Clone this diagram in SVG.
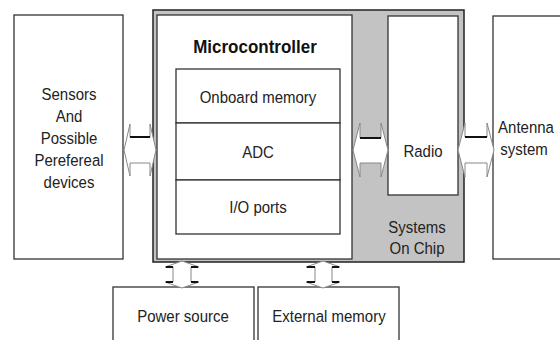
<svg xmlns="http://www.w3.org/2000/svg" width="560" height="340" viewBox="0 0 560 340">
<style>
.box{fill:#fff;stroke:#333;stroke-width:1.3}
.t{font-family:"Liberation Sans",Arial,sans-serif;font-size:15px;fill:#222;text-anchor:middle}
.b{font-weight:bold;font-size:17px;fill:#111}
.arr{fill:#fff;stroke:#888;stroke-width:1}
.dk{stroke:#111;stroke-width:2;fill:none}
</style>
<rect width="560" height="340" fill="#fff"/>
<g id="soc">
<rect x="153" y="10" width="311" height="252" fill="#c3c3c3" stroke="#222" stroke-width="1.5"/>
<text class="t" transform="translate(417,233) scale(1,1.15)">Systems</text>
<text class="t" transform="translate(417,254) scale(1,1.15)">On Chip</text>
</g>
<g id="sensors">
<rect class="box" x="14" y="15" width="109" height="244"/>
<text class="t" transform="translate(69,100) scale(1,1.15)">Sensors</text>
<text class="t" transform="translate(69,122) scale(1,1.15)">And</text>
<text class="t" transform="translate(69,144) scale(1,1.15)">Possible</text>
<text class="t" transform="translate(69,166) scale(1,1.15)">Perefereal</text>
<text class="t" transform="translate(69,188) scale(1,1.15)">devices</text>
</g>
<g id="microcontroller">
<rect class="box" x="157" y="15" width="195" height="244"/>
<text class="t b" transform="translate(255,53) scale(1,1.12)">Microcontroller</text>
</g>
<g id="onboard-memory">
<rect class="box" x="176" y="69" width="164" height="54"/>
<text class="t" transform="translate(258,103) scale(1,1.15)">Onboard memory</text>
</g>
<g id="adc">
<rect class="box" x="176" y="123" width="164" height="57"/>
<text class="t" transform="translate(258,158) scale(1,1.15)">ADC</text>
</g>
<g id="io-ports">
<rect class="box" x="176" y="180" width="164" height="54"/>
<text class="t" transform="translate(258,213) scale(1,1.15)">I/O ports</text>
</g>
<g id="radio">
<rect class="box" x="388" y="16" width="70" height="179"/>
<text class="t" transform="translate(423,157) scale(1,1.15)">Radio</text>
</g>
<g id="antenna">
<rect class="box" x="493" y="16" width="80" height="243"/>
<text class="t" transform="translate(526,133) scale(1,1.15)">Antenna</text>
<text class="t" transform="translate(524,155) scale(1,1.15)">system</text>
</g>
<g id="power-source">
<rect class="box" x="113" y="287" width="141" height="60"/>
<text class="t" transform="translate(183,322) scale(1,1.15)">Power source</text>
</g>
<g id="external-memory">
<rect class="box" x="258" y="287" width="141" height="60"/>
<text class="t" transform="translate(329,322) scale(1,1.15)">External memory</text>
</g>
<g id="connectors">
<path class="arr" d="M124,150 L130,124 L130,137 L150,137 L150,124 L156,150 L150,176 L150,163 L130,163 L130,176 Z"/>
<path class="dk" d="M130,137 L150,137"/>
<path class="arr" d="M353,150 L360,123 L360,138 L381,138 L381,123 L388,150 L381,177 L381,163 L360,163 L360,177 Z"/>
<path class="dk" d="M360,138 L381,138"/>
<path class="arr" d="M458,150 L465,123 L465,137 L487,137 L487,123 L494,150 L487,177 L487,163 L465,163 L465,177 Z"/>
<path class="dk" d="M465,137 L487,137"/>
<path class="arr" d="M182,261 L165,267 L173,267 L173,282 L165,282 L182,288 L199,282 L191,282 L191,267 L199,267 Z"/>
<path class="dk" stroke-width="1.5" d="M166,267 L173,267 M191,267 L198,267 M166,282 L173,282 M191,282 L198,282"/>
<path class="arr" d="M323,261 L306,267 L315,267 L315,282 L306,282 L323,288 L340,282 L332,282 L332,267 L340,267 Z"/>
<path class="dk" stroke-width="1.5" d="M307,267 L315,267 M332,267 L339,267 M307,282 L315,282 M332,282 L339,282"/>
</g>
</svg>
